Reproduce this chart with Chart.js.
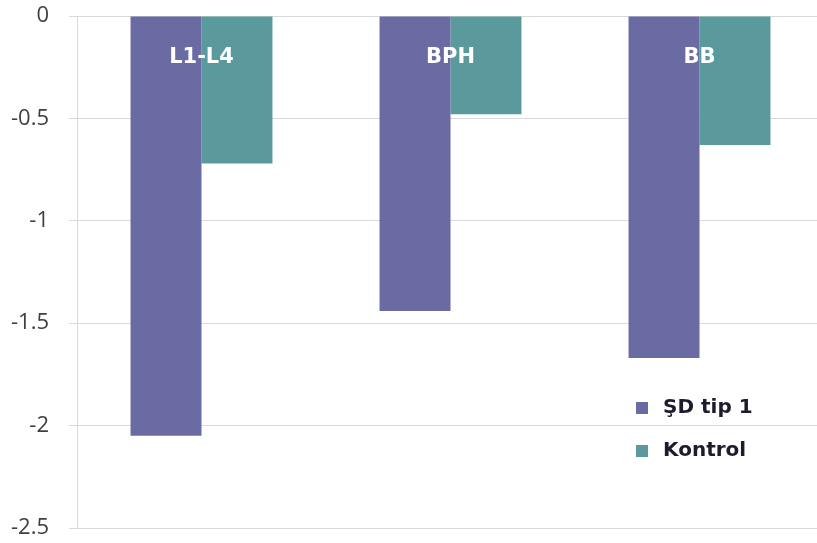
<!DOCTYPE html>
<html>
<head>
<meta charset="utf-8">
<script src="https://cdn.jsdelivr.net/npm/chart.js@4.4.0/dist/chart.umd.min.js"></script>
<style>
  html, body { margin: 0; padding: 0; background: #fff; overflow: hidden; }
  #wrap { width: 824px; height: 543px; }
</style>
</head>
<body>
<div id="wrap"><canvas id="chart" width="824" height="543"></canvas></div>
<script>
const categories = ["L1-L4", "BPH", "BB"];
const sdTip1 = [-2.05, -1.44, -1.67];
const kontrol = [-0.72, -0.48, -0.63];
const seriesNames = ["ŞD tip 1", "Kontrol"];
const yTicks = [0, -0.5, -1, -1.5, -2, -2.5];

const purple = "#6b6ba3";
const teal = "#5a9a9c";

// category names drawn in white near the top of each bar pair
const categoryLabels = {
  id: "categoryLabels",
  afterDatasetsDraw(chart) {
    const ctx = chart.ctx;
    const x = chart.scales.x;
    const y = chart.scales.y;
    ctx.save();
    ctx.fillStyle = "#ffffff";
    ctx.font = "bold 21px 'DejaVu Sans'";
    ctx.textAlign = "center";
    ctx.textBaseline = "middle";
    categories.forEach((c, i) => {
      ctx.fillText(c, x.getPixelForValue(i), y.getPixelForValue(0) + 42);
    });
    ctx.restore();
  },
};

// legend in the lower right part of the plot
const sideLegend = {
  id: "sideLegend",
  afterDraw(chart) {
    const ctx = chart.ctx;
    const area = chart.chartArea;
    const left = area.left + 559;
    const top = area.top + 392;
    ctx.save();
    ctx.font = "bold 20px 'DejaVu Sans'";
    ctx.textBaseline = "middle";
    chart.data.datasets.forEach((ds, i) => {
      const cy = top + i * 43;
      ctx.fillStyle = ds.backgroundColor;
      ctx.fillRect(left, cy - 6, 12, 12);
      ctx.fillStyle = "#1c1c2c";
      ctx.fillText(ds.label, left + 27, cy);
    });
    ctx.restore();
  },
};

new Chart(document.getElementById("chart"), {
  type: "bar",
  data: {
    labels: categories,
    datasets: [
      { label: seriesNames[0], data: sdTip1, backgroundColor: purple },
      { label: seriesNames[1], data: kontrol, backgroundColor: teal },
    ],
  },
  options: {
    responsive: false,
    animation: false,
    layout: { padding: { top: 16, bottom: 15, left: 0, right: 0 } },
    plugins: {
      legend: { display: false },
      tooltip: { enabled: false },
    },
    datasets: {
      bar: { barPercentage: 1, categoryPercentage: 0.57 },
    },
    scales: {
      x: { display: false },
      y: {
        min: -2.5,
        max: 0,
        afterBuildTicks: (axis) => {
          axis.ticks = yTicks.map((v) => ({ value: v }));
        },
        afterFit: (axis) => {
          axis.width = 77;
          axis.paddingTop = 0;
          axis.paddingBottom = 0;
        },
        grid: { color: "#d9d9d9", tickLength: 8 },
        border: { color: "#d9d9d9" },
        ticks: {
          padding: 20,
          color: "#404040",
          font: { family: "'Open Sans'", size: 22 },
          callback: (v) => String(v),
        },
      },
    },
  },
  plugins: [categoryLabels, sideLegend],
});
</script>
</body>
</html>
